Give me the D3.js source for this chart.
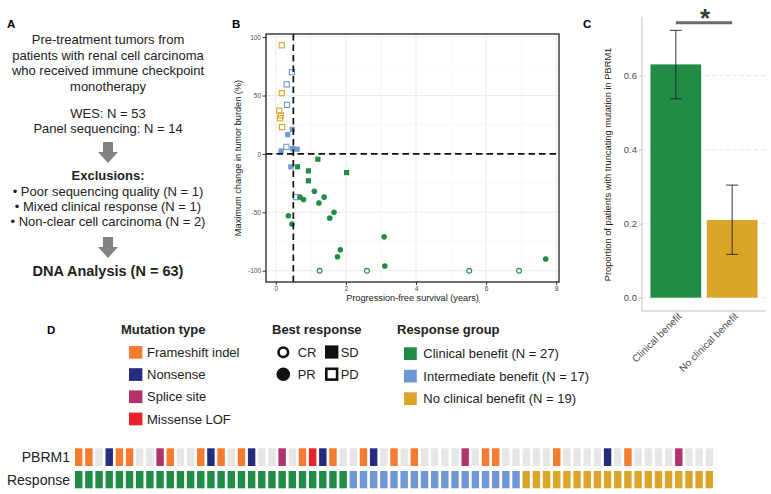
<!DOCTYPE html>
<html>
<head>
<meta charset="utf-8">
<script src="https://cdn.jsdelivr.net/npm/d3@7"></script>
<style>
body { margin: 0; background: #fff; }
text { font-family: "Liberation Sans", Arial, Helvetica, sans-serif; }
</style>
</head>
<body>
<svg id="fig" width="771" height="494"></svg>
<script>
// ---- data ----
// panel A text
var introLines = ["Pre-treatment tumors from", "patients with renal cell carcinoma", "who received immune checkpoint", "monotherapy"];
var cohortLines = ["WES: N = 53", "Panel sequencing: N = 14"];
var exclusionLines = ["\u2022 Poor sequencing quality (N = 1)", "\u2022 Mixed clinical response (N = 1)", "\u2022 Non-clear cell carcinoma (N = 2)"];

// panel B: one entry per patient with tumor measurements
var pfsYears = [0.17, 0.17, 0.10, 0.14, 0.12, 0.18,
  0.46, 0.31, 0.32, 0.30, 0.57,
  0.47, 0.34, 0.15, 0.48, 0.61, 0.43,
  0.62, 1.20, 0.93, 2.02, 0.93,
  0.69, 0.79, 1.10, 1.23, 1.38, 1.66, 1.54, 0.36, 0.46, 3.09, 1.84, 1.76, 3.11, 7.70,
  1.25, 2.60, 5.52, 6.94];
var tumorChange = [93, 52, 37, 33, 30.5, 23,
  70, 59.5, 42, 6, -37,
  21, 16.5, 2.5, 4.5, 4, -11,
  -11, -4.5, -14.5, -16, -23,
  -37, -39, -32, -42, -37, -50, -55, -53, -60, -71, -82, -88, -96, -90,
  -100, -100, -100, -100];
var pointGroup = ["NCB", "NCB", "NCB", "NCB", "NCB", "NCB",
  "IB", "IB", "IB", "IB", "IB",
  "IB", "IB", "IB", "IB", "IB", "IB",
  "CB", "CB", "CB", "CB", "CB",
  "CB", "CB", "CB", "CB", "CB", "CB", "CB", "CB", "CB", "CB", "CB", "CB", "CB", "CB",
  "CB", "CB", "CB", "CB"];
var pointResp = ["PD", "PD", "PD", "PD", "PD", "PD",
  "PD", "PD", "PD", "PD", "PD",
  "SD", "SD", "SD", "SD", "SD", "SD",
  "SD", "SD", "SD", "SD", "SD",
  "PR", "PR", "PR", "PR", "PR", "PR", "PR", "PR", "PR", "PR", "PR", "PR", "PR", "PR",
  "CR", "CR", "CR", "CR"];
var bTicksX = [0, 2, 4, 6, 8];
var bTicksY = [-100, -50, 0, 50, 100];
var pfsCutoff = 0.5;

// panel C
var barGroups = ["Clinical benefit", "No clinical benefit"];
var barValues = [0.63, 0.21];
var barLow = [0.537, 0.117];
var barHigh = [0.722, 0.304];
var cTicksY = [0, 0.2, 0.4, 0.6];

// panel D
var mutTypes = ["Frameshift indel", "Nonsense", "Splice site", "Missense LOF"];
var mutCodes = ["F", "N", "S", "M"];
var respLegend = ["CR", "SD", "PR", "PD"];
var groupLabels = ["Clinical benefit (N = 27)", "Intermediate benefit (N = 17)", "No clinical benefit (N = 19)"];
var groupCodes = ["CB", "IB", "NCB"];
var pbrm1Mut = ["F","F","","N","F","F","","","S","F","","","F","N","F","","F","N","","",
  "S","","F","M","N","F","","","F","N","","F","","F","","","","","S","",
  "F","F","","","","","","F","","","","","N","","F","","","","","S",
  "","",""];
var responseRow = ["CB","CB","CB","CB","CB","CB","CB","CB","CB","CB","CB","CB","CB","CB","CB",
  "CB","CB","CB","CB","CB","CB","CB","CB","CB","CB","CB","CB",
  "IB","IB","IB","IB","IB","IB","IB","IB","IB","IB","IB","IB","IB","IB","IB","IB","IB",
  "NCB","NCB","NCB","NCB","NCB","NCB","NCB","NCB","NCB","NCB","NCB","NCB","NCB","NCB","NCB",
  "NCB","NCB","NCB","NCB"];

// ---- colours ----
var groupColor = {CB: "#208c45", IB: "#7098d4", NCB: "#dba52a"};
var mutColor = {F: "#f47b30", N: "#252b7d", S: "#b0336a", M: "#e9222a", "": "#e6e6e6"};

var svg = d3.select("#fig");

function panelLetter(t, x, y) {
  svg.append("text").attr("x", x).attr("y", y).text(t)
    .style("font-size", "11.5px").style("font-weight", "bold");
}

// ================= panel A =================
panelLetter("A", 7, 28);
var cxA = 108;
var gA = svg.append("g");
gA.selectAll(".intro").data(introLines).enter().append("text")
  .attr("x", cxA).attr("y", function(d, i) { return 44 + i * 15.7; })
  .attr("text-anchor", "middle").style("font-size", "13px").style("fill", "#222")
  .text(function(d) { return d; });
gA.selectAll(".cohort").data(cohortLines).enter().append("text")
  .attr("x", cxA).attr("y", function(d, i) { return 117.5 + i * 15; })
  .attr("text-anchor", "middle").style("font-size", "13px").style("fill", "#222")
  .text(function(d) { return d; });
gA.append("text").attr("x", cxA).attr("y", 180).attr("text-anchor", "middle")
  .style("font-size", "13px").style("font-weight", "bold").style("fill", "#222").text("Exclusions:");
gA.selectAll(".excl").data(exclusionLines).enter().append("text")
  .attr("x", cxA).attr("y", function(d, i) { return 196 + i * 15; })
  .attr("text-anchor", "middle").style("font-size", "13px").style("fill", "#222")
  .text(function(d) { return d; });
gA.append("text").attr("x", cxA).attr("y", 276).attr("text-anchor", "middle")
  .style("font-size", "14.5px").style("font-weight", "bold").style("fill", "#222").text("DNA Analysis (N = 63)");

function downArrow(y0) {
  var p = d3.path();
  p.moveTo(cxA - 5, y0); p.lineTo(cxA + 5, y0); p.lineTo(cxA + 5, y0 + 10);
  p.lineTo(cxA + 10, y0 + 10); p.lineTo(cxA, y0 + 21); p.lineTo(cxA - 10, y0 + 10);
  p.lineTo(cxA - 5, y0 + 10); p.closePath();
  gA.append("path").attr("d", p.toString()).attr("fill", "#828282");
}
downArrow(142);
downArrow(237);

// ================= panel B =================
panelLetter("B", 232, 28);
var padX = (d3.max(pfsYears) - d3.min(pfsYears)) * 0.05;
var padY = (d3.max(tumorChange) - d3.min(tumorChange)) * 0.05;
var xB = d3.scaleLinear().domain([d3.min(pfsYears) - padX, d3.max(pfsYears) + padX]).range([266, 559]);
var yB = d3.scaleLinear().domain([d3.min(tumorChange) - padY, d3.max(tumorChange) + padY]).range([282, 34]);
var gB = svg.append("g");

// minor + major grid
var minorX = bTicksX.slice(1).map(function(d, i) { return (d + bTicksX[i]) / 2; });
var minorY = bTicksY.slice(1).map(function(d, i) { return (d + bTicksY[i]) / 2; });
gB.selectAll(".mgx").data(minorX).enter().append("line")
  .attr("x1", xB).attr("x2", xB).attr("y1", 34).attr("y2", 282)
  .attr("stroke", "#f0f0f0").attr("stroke-width", 0.5);
gB.selectAll(".mgy").data(minorY).enter().append("line")
  .attr("y1", yB).attr("y2", yB).attr("x1", 266).attr("x2", 559)
  .attr("stroke", "#f0f0f0").attr("stroke-width", 0.5);
gB.selectAll(".gx").data(bTicksX).enter().append("line")
  .attr("x1", xB).attr("x2", xB).attr("y1", 34).attr("y2", 282)
  .attr("stroke", "#e8e8e8").attr("stroke-width", 0.8);
gB.selectAll(".gy").data(bTicksY).enter().append("line")
  .attr("y1", yB).attr("y2", yB).attr("x1", 266).attr("x2", 559)
  .attr("stroke", "#e8e8e8").attr("stroke-width", 0.8);

// axes
var axYB = gB.append("g").attr("transform", "translate(266,0)")
  .call(d3.axisLeft(yB).tickValues(bTicksY).tickSize(3.5).tickPadding(1.5));
var axXB = gB.append("g").attr("transform", "translate(0,282)")
  .call(d3.axisBottom(xB).tickValues(bTicksX).tickSize(3).tickPadding(1));
[axYB, axXB].forEach(function(a) {
  a.select(".domain").remove();
  a.selectAll("line").attr("stroke", "#333");
  a.selectAll("text").style("font-size", "6.5px").style("fill", "#4d4d4d").attr("font-family", null);
});
axYB.selectAll("text").text(function(d) { return d; });

// points
var pts = pfsYears.map(function(d, i) {
  return {x: d, y: tumorChange[i], g: pointGroup[i], r: pointResp[i]};
});
gB.selectAll(".sq").data(pts.filter(function(d) { return d.r == "SD" || d.r == "PD"; }))
  .enter().append("rect")
  .attr("x", function(d) { return xB(d.x) - 2.6; })
  .attr("y", function(d) { return yB(d.y) - 2.6; })
  .attr("width", 5.2).attr("height", 5.2)
  .attr("fill", function(d) { return d.r == "SD" ? groupColor[d.g] : "#fff"; })
  .attr("fill-opacity", function(d) { return d.r == "SD" ? 1 : 0; })
  .attr("stroke", function(d) { return groupColor[d.g]; })
  .attr("stroke-width", function(d) { return d.r == "SD" ? 0 : 1.1; });
gB.selectAll(".ci").data(pts.filter(function(d) { return d.r == "PR" || d.r == "CR"; }))
  .enter().append("circle")
  .attr("cx", function(d) { return xB(d.x); })
  .attr("cy", function(d) { return yB(d.y); })
  .attr("r", function(d) { return d.r == "PR" ? 2.8 : 2.4; })
  .attr("fill", function(d) { return d.r == "PR" ? groupColor[d.g] : "#fff"; })
  .attr("stroke", function(d) { return groupColor[d.g]; })
  .attr("stroke-width", function(d) { return d.r == "PR" ? 0 : 1.1; });

// cutoff lines
gB.append("line").attr("x1", 266).attr("x2", 559).attr("y1", yB(0)).attr("y2", yB(0))
  .attr("stroke", "#111").attr("stroke-width", 1.7).attr("stroke-dasharray", "6.5,4");
gB.append("line").attr("x1", xB(pfsCutoff)).attr("x2", xB(pfsCutoff)).attr("y1", 34).attr("y2", 282)
  .attr("stroke", "#111").attr("stroke-width", 1.7).attr("stroke-dasharray", "6.5,4");

// border
gB.append("rect").attr("x", 266).attr("y", 34).attr("width", 293).attr("height", 248)
  .attr("fill", "none").attr("stroke", "#222").attr("stroke-width", 1.3);

gB.append("text").attr("x", 412.5).attr("y", 301).attr("text-anchor", "middle")
  .style("font-size", "9.2px").style("fill", "#222").text("Progression-free survival (years)");
gB.append("text").attr("transform", "translate(241,158) rotate(-90)").attr("text-anchor", "middle")
  .style("font-size", "9.2px").style("fill", "#222").text("Maximum change in tumor burden (%)");

// ================= panel C =================
panelLetter("C", 583, 28);
var xC = d3.scalePoint().domain(barGroups).range([642, 766]).padding(0.6);
var bw = xC.step() * 0.9;
var yC = d3.scaleLinear().domain([-0.036, 0.758]).range([311, 17]);
var gC = svg.append("g");

gC.selectAll(".gc").data(cTicksY).enter().append("line")
  .attr("x1", 642).attr("x2", 766).attr("y1", yC).attr("y2", yC)
  .attr("stroke", "#e3e3e3").attr("stroke-width", 0.8).attr("stroke-dasharray", "4,3");

var bars = barGroups.map(function(d, i) {
  return {k: d, v: barValues[i], lo: barLow[i], hi: barHigh[i], c: groupColor[i == 0 ? "CB" : "NCB"]};
});
gC.selectAll(".bar").data(bars).enter().append("rect")
  .attr("x", function(d) { return xC(d.k) - bw / 2; })
  .attr("y", function(d) { return yC(d.v); })
  .attr("width", bw)
  .attr("height", function(d) { return yC(0) - yC(d.v); })
  .attr("fill", function(d) { return d.c; });
var eb = gC.selectAll(".eb").data(bars).enter().append("g");
eb.append("line").attr("x1", function(d) { return xC(d.k); }).attr("x2", function(d) { return xC(d.k); })
  .attr("y1", function(d) { return yC(d.lo); }).attr("y2", function(d) { return yC(d.hi); })
  .attr("stroke", "#222").attr("stroke-width", 0.9);
eb.append("line").attr("x1", function(d) { return xC(d.k) - 6; }).attr("x2", function(d) { return xC(d.k) + 6; })
  .attr("y1", function(d) { return yC(d.lo); }).attr("y2", function(d) { return yC(d.lo); })
  .attr("stroke", "#222").attr("stroke-width", 0.9);
eb.append("line").attr("x1", function(d) { return xC(d.k) - 6; }).attr("x2", function(d) { return xC(d.k) + 6; })
  .attr("y1", function(d) { return yC(d.hi); }).attr("y2", function(d) { return yC(d.hi); })
  .attr("stroke", "#222").attr("stroke-width", 0.9);

var axYC = gC.append("g").attr("transform", "translate(642,0)")
  .call(d3.axisLeft(yC).tickValues(cTicksY).tickFormat(d3.format(".1f")).tickSize(3).tickPadding(2));
var axXC = gC.append("g").attr("transform", "translate(0,311)")
  .call(d3.axisBottom(xC).tickSize(3).tickPadding(2));
[axYC, axXC].forEach(function(a) {
  a.select(".domain").remove();
  a.selectAll("line").attr("stroke", "#bbb");
  a.selectAll("text").style("fill", "#4d4d4d").attr("font-family", null);
});
axYC.selectAll("text").style("font-size", "9.5px");
axXC.selectAll("text").style("font-size", "10px")
  .attr("text-anchor", "end").attr("dx", null).attr("dy", null)
  .attr("transform", "translate(6,6) rotate(-45)").attr("y", 0);
gC.append("line").attr("x1", 642).attr("x2", 642).attr("y1", 17).attr("y2", 311)
  .attr("stroke", "#d2d6da").attr("stroke-width", 1.4);
gC.append("line").attr("x1", 642).attr("x2", 766).attr("y1", 311).attr("y2", 311)
  .attr("stroke", "#d2d6da").attr("stroke-width", 1.4);

gC.append("text").attr("transform", "translate(611,164.5) rotate(-90)").attr("text-anchor", "middle")
  .style("font-size", "9.3px").style("fill", "#222").text("Proportion of patients with truncating mutation in PBRM1");

// significance
gC.append("line").attr("x1", xC(barGroups[0])).attr("x2", xC(barGroups[1])).attr("y1", 22.7).attr("y2", 22.7)
  .attr("stroke", "#6b6b6b").attr("stroke-width", 3);
gC.append("text").attr("x", (xC(barGroups[0]) + xC(barGroups[1])) / 2 + 1).attr("y", 27)
  .attr("text-anchor", "middle").style("font-size", "26px").style("font-weight", "bold")
  .style("fill", "#3a3a3a").text("*");

// ================= panel D =================
panelLetter("D", 47, 333.5);
var gD = svg.append("g");
function legendTitle(t, x) {
  gD.append("text").attr("x", x).attr("y", 334).text(t)
    .style("font-size", "13px").style("font-weight", "bold").style("fill", "#222");
}
legendTitle("Mutation type", 121);
legendTitle("Best response", 272);
legendTitle("Response group", 397);

var mutRows = gD.selectAll(".mr").data(mutTypes).enter().append("g")
  .attr("transform", function(d, i) { return "translate(129," + (346 + i * 22.2) + ")"; });
mutRows.append("rect").attr("width", 13.4).attr("height", 12.7)
  .attr("fill", function(d, i) { return mutColor[mutCodes[i]]; });
mutRows.append("text").attr("x", 18).attr("y", 11).style("font-size", "13px").style("fill", "#222")
  .text(function(d) { return d; });

var grpRows = gD.selectAll(".gr").data(groupLabels).enter().append("g")
  .attr("transform", function(d, i) { return "translate(404," + (347.3 + i * 22.5) + ")"; });
grpRows.append("rect").attr("width", 12.8).attr("height", 12.7)
  .attr("fill", function(d, i) { return groupColor[groupCodes[i]]; });
grpRows.append("text").attr("x", 19.3).attr("y", 11).style("font-size", "13px").style("fill", "#222")
  .text(function(d) { return d; });

// best response symbols, two columns
var respPos = {CR: [283.3, 352.3], SD: [331.7, 352], PR: [283.3, 374.3], PD: [331.7, 374.2]};
respLegend.forEach(function(r) {
  var p = respPos[r];
  if (r == "CR") gD.append("circle").attr("cx", p[0]).attr("cy", p[1]).attr("r", 4.8)
    .attr("fill", "none").attr("stroke", "#111").attr("stroke-width", 2.6);
  if (r == "PR") gD.append("circle").attr("cx", p[0]).attr("cy", p[1]).attr("r", 6.8).attr("fill", "#111");
  if (r == "SD") gD.append("rect").attr("x", p[0] - 6.7).attr("y", p[1] - 6.6).attr("width", 13.4).attr("height", 13.2).attr("fill", "#111");
  if (r == "PD") gD.append("rect").attr("x", p[0] - 5.4).attr("y", p[1] - 5.4).attr("width", 10.8).attr("height", 10.8)
    .attr("fill", "none").attr("stroke", "#111").attr("stroke-width", 2.6);
  gD.append("text").attr("x", p[0] + (r == "CR" || r == "PR" ? 14.4 : 9)).attr("y", p[1] + 4.7)
    .style("font-size", "13px").style("fill", "#222").text(r);
});

// tile rows
var patients = d3.range(pbrm1Mut.length);
var xT = d3.scaleBand().domain(patients).range([75, 713]).paddingInner(0.27).paddingOuter(0);
gD.selectAll(".tm").data(pbrm1Mut).enter().append("rect")
  .attr("x", function(d, i) { return xT(i); }).attr("y", 448.3)
  .attr("width", xT.bandwidth()).attr("height", 17.7)
  .attr("fill", function(d) { return mutColor[d]; });
gD.selectAll(".tr").data(responseRow).enter().append("rect")
  .attr("x", function(d, i) { return xT(i); }).attr("y", 471)
  .attr("width", xT.bandwidth()).attr("height", 17.3)
  .attr("fill", function(d) { return groupColor[d]; });
gD.append("text").attr("x", 70).attr("y", 462).attr("text-anchor", "end")
  .style("font-size", "14px").style("fill", "#222").text("PBRM1");
gD.append("text").attr("x", 70).attr("y", 485).attr("text-anchor", "end")
  .style("font-size", "14px").style("fill", "#222").text("Response");
</script>
</body>
</html>
